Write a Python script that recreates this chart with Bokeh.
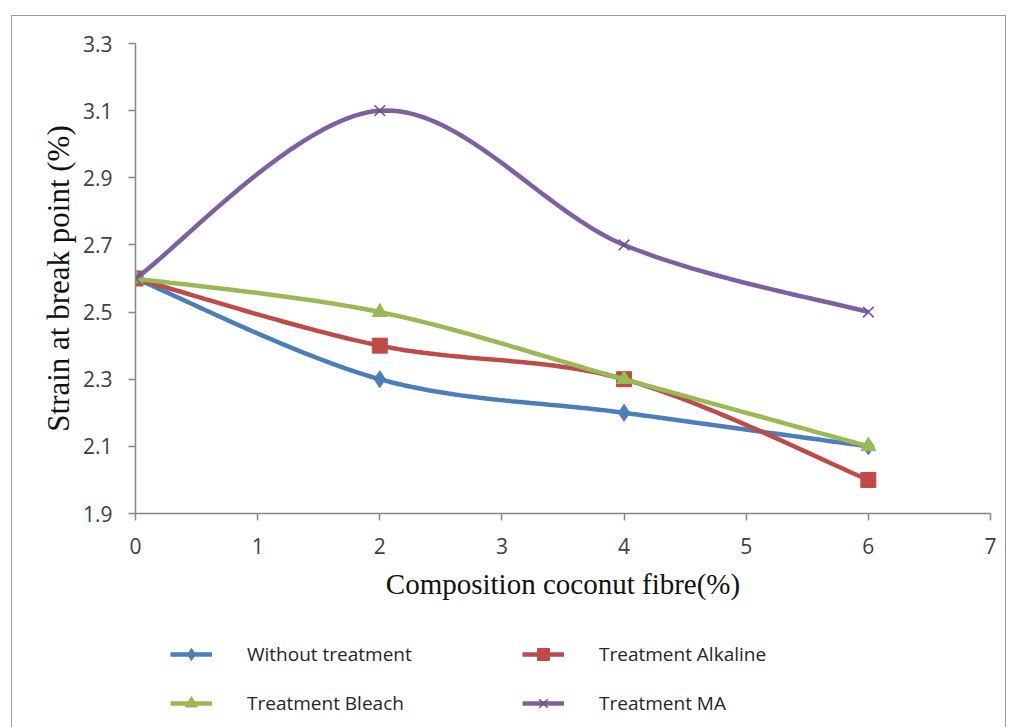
import numpy as np
from bokeh.plotting import figure
from bokeh.layouts import column
from bokeh.models import Range1d, Legend, LegendItem, FixedTicker
from bokeh.embed import file_html
from bokeh.resources import INLINE

composition = [0, 2, 4, 6]
without_treatment = [2.6, 2.3, 2.2, 2.1]
treatment_alkaline = [2.6, 2.4, 2.3, 2.0]
treatment_bleach = [2.6, 2.5, 2.3, 2.1]
treatment_ma = [2.6, 3.1, 2.7, 2.5]

x_ticks = [0, 1, 2, 3, 4, 5, 6, 7]
y_ticks = [1.9, 2.1, 2.3, 2.5, 2.7, 2.9, 3.1, 3.3]


def smooth(xs, ys, n=40):
    """Excel-like smoothed line: cubic Bezier with Catmull-Rom style control points."""
    P = np.column_stack([xs, ys]).astype(float)
    m = len(P)
    out = []
    for i in range(m - 1):
        p0 = P[max(i - 1, 0)]
        p1 = P[i]
        p2 = P[i + 1]
        p3 = P[min(i + 2, m - 1)]
        c1 = p1 + (p2 - p0) / 6.0
        c2 = p2 - (p3 - p1) / 6.0
        t = np.linspace(0, 1, n)[:, None]
        seg = ((1 - t) ** 3) * p1 + 3 * ((1 - t) ** 2) * t * c1 + 3 * (1 - t) * t ** 2 * c2 + t ** 3 * p2
        out.append(seg if i == 0 else seg[1:])
    c = np.vstack(out)
    return c[:, 0], c[:, 1]


OFF_X = 12   # outer frame left offset
OFF_Y = 16   # outer frame top offset
W = 1005 - OFF_X
LEFT = 135 - OFF_X
RIGHT = W - LEFT - 855

p = figure(
    width=W, height=610 - OFF_Y,
    frame_width=855, frame_height=470,
    min_border_left=LEFT, min_border_right=RIGHT,
    min_border_top=43 - OFF_Y, min_border_bottom=97,
    x_range=Range1d(0, 7), y_range=Range1d(1.9, 3.3),
    output_backend="svg", toolbar_location=None,
)
p.outline_line_color = None
p.xgrid.grid_line_color = None
p.ygrid.grid_line_color = None
p.background_fill_color = "white"
p.border_fill_color = "white"

for ax in (p.xaxis[0], p.yaxis[0]):
    ax.axis_line_color = "#868686"
    ax.axis_line_width = 1.5
    ax.major_tick_line_color = "#868686"
    ax.major_tick_line_width = 1.5
    ax.major_tick_in = 0
    ax.major_tick_out = 7
    ax.minor_tick_line_color = None
    ax.major_label_text_font = "Open Sans"
    ax.major_label_text_font_size = "21px"
    ax.major_label_text_color = "#404040"
    ax.axis_label_text_font = "Liberation Serif"
    ax.axis_label_text_font_style = "normal"
    ax.axis_label_text_color = "#111111"

p.xaxis.axis_label_text_font_size = "29px"
p.yaxis.axis_label_text_font_size = "31px"
p.xaxis.ticker = FixedTicker(ticks=x_ticks)
p.yaxis.ticker = FixedTicker(ticks=y_ticks)
p.yaxis.major_label_overrides = {v: f"{v:.1f}" for v in y_ticks}
p.xaxis.axis_label = "Composition coconut fibre(%)"
p.yaxis.axis_label = "Strain at break point (%)"
p.xaxis.major_label_standoff = 17
p.yaxis.major_label_standoff = 16
p.xaxis.axis_label_standoff = 11
p.yaxis.axis_label_standoff = 4

series = [
    ("Without treatment", without_treatment, "#4A7EBB", "diamond", 17),
    ("Treatment Alkaline", treatment_alkaline, "#BE4B48", "square", 15),
    ("Treatment Bleach", treatment_bleach, "#98B954", "triangle", 15),
    ("Treatment MA", treatment_ma, "#7D60A0", "x", 15),
]

# legend panel (second figure); its renderers hold no visible data, only styles
lf = figure(
    width=W, height=727 - 610 + 2,
    frame_width=855,
    min_border_left=LEFT, min_border_right=RIGHT, min_border_top=0, min_border_bottom=0,
    x_range=Range1d(0, 1), y_range=Range1d(0, 1),
    output_backend="svg", toolbar_location=None,
)
lf.axis.visible = False
lf.grid.visible = False
lf.outline_line_color = None
lf.border_fill_color = "white"

items = {}
nan = [float("nan")]
for name, ys, color, marker, size in series:
    sx, sy = smooth(composition, ys)
    p.line(sx, sy, line_color=color, line_width=4.5)
    if marker == "x":
        p.scatter(composition, ys, marker="x", size=size, line_color="#6B5090", line_width=1.5)
    else:
        p.scatter(composition, ys, marker=marker, size=size, fill_color=color, line_color=color)
    l1 = lf.line(nan, nan, line_color=color, line_width=4.5)
    if marker == "x":
        l2 = lf.scatter(nan, nan, marker="x", size=size, line_color="#6B5090", line_width=1.5)
    else:
        l2 = lf.scatter(nan, nan, marker=marker, size=size, fill_color=color, line_color=color)
    items[name] = LegendItem(label=name, renderers=[l1, l2])


def make_legend(names, x, y):
    lg = Legend(items=[items[n] for n in names], location=(x, y))
    lg.background_fill_alpha = 0
    lg.border_line_color = None
    lg.label_text_font = "Open Sans"
    lg.label_text_font_size = "19px"
    lg.label_text_color = "#262626"
    lg.glyph_width = 42
    lg.glyph_height = 30
    lg.label_height = 30
    lg.label_standoff = 35
    lg.spacing = 19
    lg.padding = 0
    lg.margin = 0
    return lg

lf.add_layout(make_legend(["Without treatment", "Treatment Bleach"], 170 - 135, 11), "center")
lf.add_layout(make_legend(["Treatment Alkaline", "Treatment MA"], 522 - 135, 11), "center")

layout = column(p, lf, spacing=0, margin=(OFF_Y, 0, 0, OFF_X),
                styles={"outline": "1.5px solid #9a9a9a"})

open("out.html", "w").write(file_html(layout, INLINE))
